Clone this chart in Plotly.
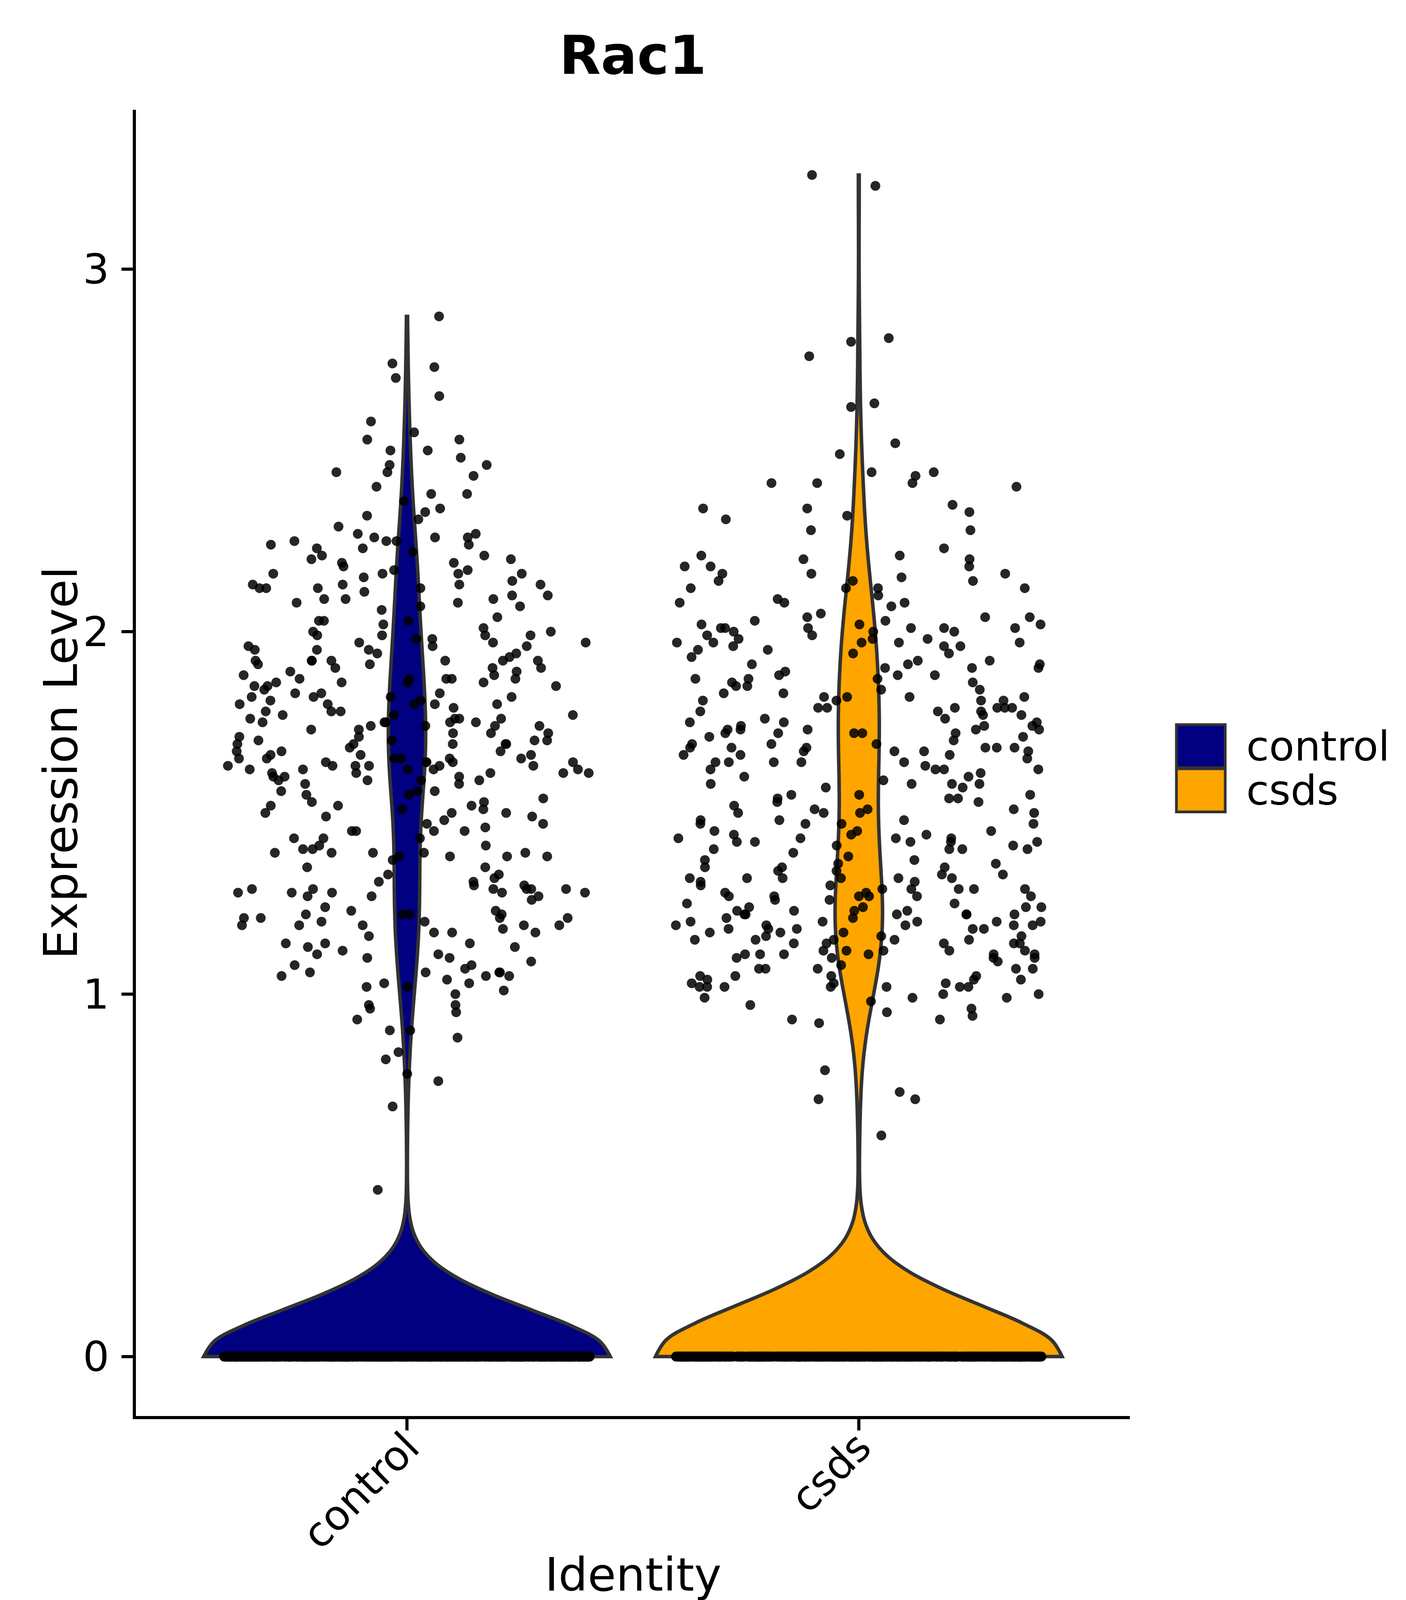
import plotly.graph_objects as go

# groups and colours
groups = ['control', 'csds']
group_colors = ['#000080', '#FFA500']

# cells with zero expression in each group
control_zero_count = 1130
csds_zero_count = 960

# non-zero Rac1 expression values
control_values = [
    2.87, 2.74, 2.73, 2.70, 2.65,
    2.58, 2.55, 2.53, 2.53, 2.50, 2.50,
    2.48, 2.46, 2.46, 2.44, 2.43, 2.44, 2.40,
    2.38, 2.38, 2.36, 2.34, 2.33, 2.32, 2.31,
    2.29, 2.27, 2.27, 2.26, 2.26, 2.25, 2.25, 2.26, 2.25, 2.24, 2.24, 2.23, 2.23, 2.22, 2.21, 2.21,
    2.19, 2.20, 2.20, 2.19, 2.17, 2.17, 2.16, 2.18, 2.16, 2.16, 2.16, 2.15, 2.13, 2.13, 2.13, 2.13, 2.14,
    2.12, 2.12, 2.12, 2.11, 2.12, 2.10, 2.10, 2.09, 2.09, 2.09, 2.08, 2.08, 2.07, 2.06, 2.07, 2.04,
    2.03, 2.03, 2.03, 2.01,
    2.02, 2.00, 1.99, 2.00, 1.99, 1.99, 1.98, 1.97, 1.97, 1.96, 1.96, 1.95, 1.97, 1.98, 1.99, 1.96,
    1.95, 1.94, 1.95, 1.93, 1.94, 1.92,
    1.92, 1.92, 1.92, 1.92, 1.91, 1.90, 1.92, 1.91, 1.90, 1.89, 1.89, 1.92, 1.90, 1.88, 1.87, 1.88,
    1.87, 1.86, 1.86, 1.86, 1.87, 1.87, 1.87, 1.86, 1.85, 1.85, 1.85, 1.84, 1.83, 1.83, 1.83,
    1.82, 1.82, 1.80, 1.82, 1.81, 1.82, 1.80, 1.80, 1.80, 1.79, 1.81, 1.80, 1.78, 1.78, 1.77, 1.77,
    1.78, 1.77, 1.76, 1.76, 1.75, 1.76, 1.75, 1.75, 1.74, 1.76, 1.75, 1.75, 1.74, 1.74, 1.74, 1.73,
    1.73, 1.72, 1.72, 1.71, 1.70, 1.71, 1.72, 1.70, 1.70, 1.70, 1.69, 1.69, 1.69, 1.69, 1.67, 1.68,
    1.69, 1.67, 1.66, 1.66, 1.66, 1.65, 1.65, 1.67, 1.65, 1.65, 1.65, 1.65, 1.64, 1.64, 1.63, 1.62,
    1.62, 1.61, 1.61,
    1.63, 1.64, 1.64, 1.63, 1.61, 1.62, 1.60, 1.62, 1.59, 1.60, 1.63, 1.61, 1.58, 1.62, 1.61, 1.63,
    1.59, 1.56, 1.60, 1.64, 1.63, 1.59, 1.59, 1.58, 1.55, 1.53, 1.56,
    1.56, 1.55, 1.52, 1.52, 1.54, 1.52, 1.50, 1.51, 1.51, 1.50, 1.49, 1.50, 1.49, 1.47, 1.45, 1.47,
    1.53, 1.48, 1.45, 1.45,
    1.45, 1.46, 1.43, 1.43, 1.43, 1.41, 1.41, 1.39, 1.38, 1.39, 1.40, 1.40, 1.39, 1.38, 1.38, 1.38,
    1.39, 1.39, 1.37,
    1.35, 1.33, 1.33, 1.35, 1.32, 1.30, 1.29, 1.31, 1.31, 1.30,
    1.29, 1.28, 1.27, 1.29, 1.29, 1.28, 1.26, 1.28, 1.29, 1.28, 1.29, 1.27, 1.28, 1.27, 1.24, 1.22,
    1.23, 1.23, 1.21, 1.22, 1.22, 1.22, 1.21, 1.21,
    1.20, 1.19, 1.19, 1.17, 1.19, 1.19, 1.21, 1.18, 1.16, 1.19, 1.20, 1.17, 1.14, 1.14, 1.13, 1.17,
    1.13, 1.14, 1.12,
    1.11, 1.10, 1.08, 1.06, 1.10, 1.11, 1.09, 1.07, 1.06, 1.08, 1.06, 1.05, 1.06, 1.05, 1.02, 1.04,
    1.05,
    1.03, 1.01, 1.00, 1.03, 1.02, 0.97, 0.95, 0.96, 0.97,
    0.90, 0.90, 0.93, 0.88,
    0.84, 0.82, 0.78, 0.76, 0.69, 0.46,
]

csds_values = [
    3.26, 3.23, 2.81, 2.76, 2.80, 2.63, 2.62, 2.52, 2.49, 2.44, 2.44, 2.41, 2.43, 2.40, 2.41, 2.41,
    2.33, 2.34, 2.35, 2.34, 2.31, 2.32, 2.28, 2.28, 2.23, 2.20, 2.21, 2.21, 2.20, 2.18, 2.16, 2.18,
    2.16, 2.18, 2.16, 2.15, 2.14, 2.14, 2.14, 2.12, 2.12, 2.12, 2.12, 2.10, 2.09, 2.08, 2.07, 2.08,
    2.08, 2.04, 2.04, 2.05, 2.02, 2.03, 2.02, 2.04, 2.03, 2.01, 2.01, 2.00, 2.00,
    2.01, 1.97, 2.00, 1.97, 1.97, 1.96, 1.98, 1.98, 1.99, 2.01, 1.97, 2.02, 2.01, 1.98, 2.01, 1.99,
    1.97, 1.94, 1.95, 1.96, 1.93, 1.92, 1.95, 1.96, 1.94, 1.92,
    1.90, 1.90, 1.88, 1.90, 1.91, 1.91, 1.91, 1.89, 1.88, 1.88, 1.87, 1.87, 1.87, 1.86, 1.86, 1.85,
    1.85, 1.83, 1.84, 1.84,
    1.82, 1.82, 1.82, 1.81, 1.81, 1.83, 1.79, 1.79, 1.81, 1.82, 1.81, 1.79, 1.78, 1.79, 1.78, 1.77,
    1.79, 1.76, 1.79, 1.78, 1.77, 1.76,
    1.73, 1.74, 1.73, 1.75, 1.74, 1.75, 1.75, 1.73, 1.71, 1.73, 1.72, 1.73, 1.72, 1.74, 1.71, 1.72,
    1.72, 1.72, 1.70, 1.67, 1.68, 1.68, 1.69, 1.69, 1.69, 1.67, 1.68, 1.68, 1.68, 1.68, 1.67,
    1.66, 1.66, 1.65, 1.64, 1.64, 1.67, 1.66, 1.62, 1.64, 1.64, 1.64, 1.62, 1.63, 1.62, 1.61, 1.62,
    1.60, 1.60, 1.59,
    1.58, 1.58, 1.57, 1.58, 1.58, 1.57, 1.55, 1.55, 1.55, 1.54, 1.54, 1.53, 1.53, 1.54, 1.51, 1.50,
    1.51, 1.51, 1.52, 1.50, 1.50, 1.50,
    1.48, 1.47, 1.47, 1.48, 1.48, 1.47, 1.47, 1.45, 1.45, 1.44, 1.45, 1.44, 1.42, 1.43, 1.43, 1.44,
    1.43, 1.42, 1.42, 1.43, 1.42, 1.42, 1.41, 1.41, 1.40, 1.40, 1.40, 1.40, 1.39,
    1.36, 1.38, 1.37, 1.35, 1.36, 1.34, 1.37, 1.35, 1.35, 1.33, 1.33, 1.34, 1.32, 1.32, 1.31, 1.29,
    1.29,
    1.32, 1.32, 1.32, 1.32, 1.30, 1.31, 1.30, 1.27, 1.29, 1.28, 1.27, 1.26, 1.26, 1.25, 1.27, 1.27,
    1.28, 1.27, 1.29, 1.27, 1.29, 1.25,
    1.23, 1.23, 1.22, 1.20, 1.20, 1.18, 1.19, 1.19, 1.18, 1.17, 1.18, 1.19, 1.22, 1.23, 1.22, 1.20,
    1.20, 1.20, 1.19, 1.21, 1.22, 1.23, 1.24, 1.24, 1.22, 1.24, 1.24, 1.22, 1.21, 1.19, 1.18, 1.17,
    1.17, 1.18,
    1.14, 1.14, 1.11, 1.10, 1.11, 1.12, 1.10, 1.11, 1.14, 1.14, 1.12, 1.11, 1.10, 1.16, 1.15, 1.15,
    1.15, 1.11, 1.15, 1.14, 1.12, 1.10, 1.16, 1.16, 1.15, 1.11, 1.12, 1.12, 1.07, 1.07, 1.07, 1.09,
    1.08, 1.07,
    1.05, 1.04, 1.03, 1.02, 1.02, 1.07, 1.04, 1.02, 1.02, 1.04, 1.05, 1.02, 1.05, 1.03, 1.03, 1.05,
    1.02, 1.02, 1.00, 0.99, 0.99, 1.00, 0.99, 0.98,
    0.96, 0.97, 0.95, 0.94, 0.93, 0.92, 0.93,
    0.79, 0.71, 0.71, 0.73, 0.61,
]

group_values = [
    [0.0] * control_zero_count + control_values,
    [0.0] * csds_zero_count + csds_values,
]
bandwidths = [0.13, 0.14]

font = 'DejaVu Sans'
fig = go.Figure()

for name, color, vals, bw in zip(groups, group_colors, group_values, bandwidths):
    fig.add_trace(go.Violin(
        x0=name, y=vals, name=name,
        fillcolor=color, opacity=1,
        line=dict(color='#333333', width=9),
        bandwidth=bw, spanmode='hard',
        width=0.9, scalemode='width',
        points='all', jitter=0.9, pointpos=0,
        marker=dict(color='black', size=25, opacity=0.85),
        box_visible=False, meanline_visible=False,
        showlegend=False,
    ))

# legend keys drawn by hand so they are as large as in the original
key_x0, key_x1 = 1.0468, 1.0959
key_tops = [0.5293, 0.4955]
key_h = 0.0330
for name, color, top in zip(groups, group_colors, key_tops):
    fig.add_shape(type='rect', xref='paper', yref='paper',
                  x0=key_x0, x1=key_x1, y0=top - key_h, y1=top,
                  fillcolor=color, line=dict(color='#333333', width=7))
    fig.add_annotation(xref='paper', yref='paper', x=1.1163, y=top - key_h / 2,
                       text=name, showarrow=False, xanchor='left', yanchor='middle',
                       font=dict(family=font, size=106, color='black'))

# axis titles placed as annotations
fig.add_annotation(xref='paper', yref='paper', x=0.5, y=-0.1215, text='Identity',
                   showarrow=False, xanchor='center', yanchor='middle',
                   font=dict(family=font, size=118, color='black'))
fig.add_annotation(xref='paper', yref='paper', x=-0.0758, y=0.5, text='Expression Level',
                   textangle=-90, showarrow=False, xanchor='center', yanchor='middle',
                   font=dict(family=font, size=120, color='black'))

axis_style = dict(
    showline=True, linecolor='black', linewidth=8,
    ticks='outside', ticklen=29, tickwidth=8, tickcolor='black',
    tickfont=dict(family=font, size=106, color='black'),
    showgrid=False, zeroline=False,
)

fig.update_layout(
    width=3600, height=4200,
    margin=dict(l=348, r=707, t=281, b=575),
    plot_bgcolor='white', paper_bgcolor='white',
    font=dict(family=font, color='black'),
    violinmode='overlay',
    title=dict(text='<b>Rac1</b>', x=0.5, xref='paper', y=1 - 141 / 4200, yref='container',
               xanchor='center', yanchor='middle', font=dict(family=font, size=138, color='black')),
    xaxis=dict(type='category', categoryorder='array', categoryarray=groups,
               range=[-0.6, 1.6], tickangle=-45, ticklabelstandoff=-62,
               **axis_style),
    yaxis=dict(range=[-0.164, 3.44], tickvals=[0, 1, 2, 3], ticklabelstandoff=10,
               **axis_style),
)

# drop the default page margin so the 3600x4200 figure fills the window exactly
fig.write_html('out.html', config={'displayModeBar': False},
               post_script="document.body.style.margin='0';")
